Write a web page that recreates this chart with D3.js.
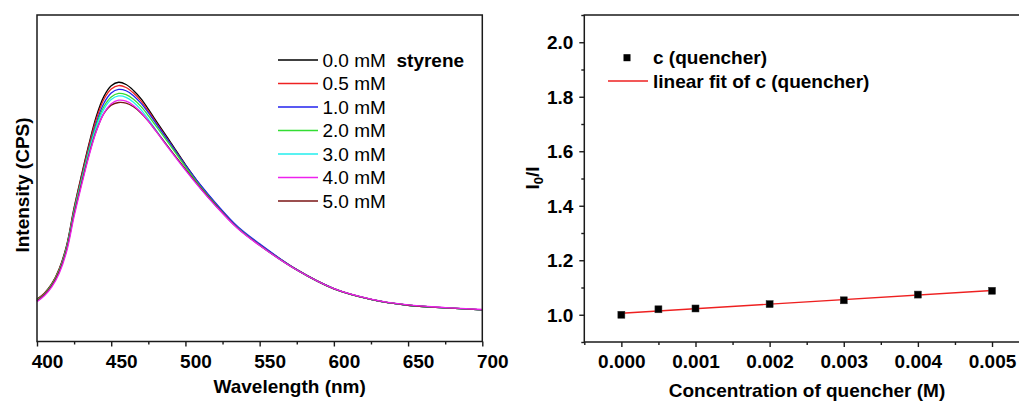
<!DOCTYPE html>
<html>
<head>
<meta charset="utf-8">
<script src="https://cdn.jsdelivr.net/npm/d3@7"></script>
<style>
  body { margin: 0; background: #fff; }
  svg { display: block; }
</style>
</head>
<body>
<svg id="chart" width="1019" height="401"></svg>
<script>
// ---- Emission spectra (arbitrary intensity units) ----
const wavelengths = [400, 405, 410, 415, 420, 425, 430, 435, 440, 445, 450, 455, 460, 465, 470, 475, 480, 490, 500, 510, 520, 535, 550, 575, 600, 625, 650, 675, 700];

const spec00 = [12.9, 14.8, 17.7, 22.3, 29.5, 41.0, 51.0, 60.5, 69.0, 75.0, 78.3, 79.4, 78.7, 76.9, 74.4, 71.2, 67.7, 61.0, 54.2, 47.9, 42.4, 35.0, 29.7, 22.0, 16.2, 12.9, 11.1, 10.3, 9.7];
const spec05 = [12.8, 14.7, 17.6, 22.1, 29.2, 40.6, 50.5, 59.9, 68.2, 74.1, 77.3, 78.4, 77.8, 76.1, 73.7, 70.6, 67.2, 60.6, 53.9, 47.7, 42.2, 34.9, 29.6, 22.0, 16.2, 12.9, 11.1, 10.3, 9.7];
const spec10 = [12.5, 14.4, 17.3, 21.7, 28.7, 39.9, 49.7, 59.0, 67.1, 72.9, 76.1, 77.2, 76.8, 75.3, 73.0, 70.1, 66.9, 60.5, 54.0, 48.0, 42.6, 35.3, 29.9, 22.0, 16.2, 12.9, 11.1, 10.3, 9.7];
const spec20 = [12.6, 14.5, 17.4, 21.8, 28.8, 39.9, 49.5, 58.6, 66.4, 71.9, 74.9, 76.0, 75.6, 74.2, 72.0, 69.2, 66.1, 59.9, 53.5, 47.5, 42.1, 34.9, 29.5, 21.9, 16.1, 12.9, 11.1, 10.3, 9.7];
const spec30 = [12.4, 14.3, 17.1, 21.5, 28.4, 39.4, 49.0, 58.0, 65.7, 71.1, 74.1, 75.2, 74.8, 73.3, 71.0, 68.1, 64.9, 58.6, 52.6, 47.0, 41.8, 34.8, 29.5, 21.9, 16.1, 12.9, 11.1, 10.3, 9.7];
const spec40 = [12.2, 14.0, 16.7, 20.9, 27.6, 38.3, 47.8, 56.8, 64.4, 69.8, 72.8, 73.9, 73.6, 72.3, 70.2, 67.5, 64.5, 58.4, 52.5, 46.9, 41.7, 34.7, 29.4, 21.9, 16.2, 13.0, 11.2, 10.4, 9.8];
const spec50 = [12.4, 14.3, 17.1, 21.4, 28.2, 39.0, 48.4, 57.2, 64.6, 69.8, 72.4, 73.2, 73.0, 71.9, 70.0, 67.5, 64.6, 58.6, 52.8, 47.1, 41.9, 34.8, 29.5, 21.9, 16.1, 12.9, 11.1, 10.3, 9.7];

const spectraLabels = ["0.0 mM", "0.5 mM", "1.0 mM", "2.0 mM", "3.0 mM", "4.0 mM", "5.0 mM"];
const spectraColors = ["#000000", "#ee2222", "#2222ee", "#33dd33", "#22eeee", "#ee22ee", "#7a1515"];
const wavelengthTicks = [400, 450, 500, 550, 600, 650, 700];
const wavelengthMinor = [425, 475, 525, 575, 625, 675];

// ---- Stern–Volmer data ----
const quencherConc = [0, 0.0005, 0.001, 0.002, 0.003, 0.004, 0.005];
const ratioI0I = [1.000, 1.020, 1.023, 1.039, 1.053, 1.074, 1.088];
const concTicks = [0, 0.001, 0.002, 0.003, 0.004, 0.005];
const concMinor = [-0.0005, 0.0005, 0.0015, 0.0025, 0.0035, 0.0045, 0.0055];
const ratioTicks = [1.0, 1.2, 1.4, 1.6, 1.8, 2.0];
const ratioMinor = [0.9, 1.1, 1.3, 1.5, 1.7, 1.9, 2.1];

const FONT = "'Liberation Sans', Arial, sans-serif";
const AXIS_COLOR = "#1a1a1a";
const svg = d3.select("#chart");

function styleAxis(g, size) {
  g.attr("font-family", FONT).attr("font-size", size).attr("font-weight", "bold");
  g.selectAll("line").attr("stroke", AXIS_COLOR).attr("stroke-width", 1.4);
  g.selectAll("text").attr("fill", "#000");
  g.select(".domain").remove();
}

// =============== Left panel: emission spectra ===============
const L = { left: 37, right: 482.3, top: 15, bottom: 341.5 };
const xL = d3.scaleLinear().domain([400, 700]).range([L.left, L.right]);
const yL = d3.scaleLinear().domain([0, 100]).range([L.bottom, L.top]);

const left = svg.append("g");

// minor ticks
left.append("g")
  .attr("transform", `translate(0,${L.bottom})`)
  .call(d3.axisBottom(xL).tickValues(wavelengthMinor).tickSize(3).tickFormat(""))
  .call(g => styleAxis(g, 19));

// major ticks and labels
left.append("g")
  .attr("transform", `translate(0,${L.bottom})`)
  .call(d3.axisBottom(xL).tickValues(wavelengthTicks).tickSize(5).tickPadding(8.5).tickFormat(d3.format("d")))
  .call(g => { styleAxis(g, 19); g.selectAll("text").attr("dx", 10); });

const spectra = [spec00, spec05, spec10, spec20, spec30, spec40, spec50];
const line = d3.line()
  .x(d => xL(d[0]))
  .y(d => yL(d[1]))
  .curve(d3.curveCatmullRom.alpha(0.5));

// draw order keeps the 4.0 mM trace visible on the converged tail
const drawOrder = [0, 1, 2, 3, 4, 6, 5];
drawOrder.forEach(i => {
  left.append("path")
    .datum(wavelengths.map((w, k) => [w, spectra[i][k]]))
    .attr("fill", "none")
    .attr("stroke", spectraColors[i])
    .attr("stroke-width", 1.3)
    .attr("stroke-linejoin", "round")
    .attr("d", line);
});

// frame
left.append("rect")
  .attr("x", L.left).attr("y", L.top)
  .attr("width", L.right - L.left).attr("height", L.bottom - L.top)
  .attr("fill", "none").attr("stroke", AXIS_COLOR).attr("stroke-width", 1.5);

// legend
const legL = left.append("g").attr("font-family", FONT).attr("font-size", 19);
spectraLabels.forEach((lab, i) => {
  const yy = 60 + i * 23.5;
  legL.append("line")
    .attr("x1", 278).attr("x2", 318).attr("y1", yy).attr("y2", yy)
    .attr("stroke", spectraColors[i]).attr("stroke-width", 1.3);
  legL.append("text").attr("x", 322.5).attr("y", yy + 6.7).text(lab);
});
legL.append("text").attr("x", 396.5).attr("y", 60 + 6.7)
  .attr("font-weight", "bold").text("styrene");

// axis titles
left.append("text")
  .attr("x", (L.left + L.right) / 2 + 30).attr("y", 392.5)
  .attr("text-anchor", "middle")
  .attr("font-family", FONT).attr("font-size", 19).attr("font-weight", "bold")
  .text("Wavelength (nm)");

left.append("text")
  .attr("transform", "translate(28.5,185) rotate(-90)")
  .attr("text-anchor", "middle")
  .attr("font-family", FONT).attr("font-size", 19).attr("font-weight", "bold")
  .text("Intensity (CPS)");

// =============== Right panel: Stern–Volmer plot ===============
const R = { left: 584.3, top: 15, bottom: 342 };
const xR = d3.scaleLinear().domain([-0.0005, 0.0055]).range([R.left, R.left + 6 * 74.13]);
const yR = d3.scaleLinear().domain([0.9, 2.1]).range([R.bottom, R.top]);

const right = svg.append("g");

right.append("g")
  .attr("transform", `translate(0,${R.bottom})`)
  .call(d3.axisBottom(xR).tickValues(concMinor).tickSize(3).tickFormat(""))
  .call(g => styleAxis(g, 19));
right.append("g")
  .attr("transform", `translate(0,${R.bottom})`)
  .call(d3.axisBottom(xR).tickValues(concTicks).tickSize(5).tickPadding(8).tickFormat(d3.format(".3f")))
  .call(g => styleAxis(g, 19));

right.append("g")
  .attr("transform", `translate(${R.left},0)`)
  .call(d3.axisLeft(yR).tickValues(ratioMinor).tickSize(3).tickFormat(""))
  .call(g => styleAxis(g, 19));
right.append("g")
  .attr("transform", `translate(${R.left},0)`)
  .call(d3.axisLeft(yR).tickValues(ratioTicks).tickSize(5).tickPadding(6).tickFormat(d3.format(".1f")))
  .call(g => { styleAxis(g, 19); g.selectAll("text").attr("dy", "0.35em"); });

// frame (right edge falls past the canvas)
right.append("rect")
  .attr("x", R.left).attr("y", R.top)
  .attr("width", xR(0.0055) - R.left).attr("height", R.bottom - R.top)
  .attr("fill", "none").attr("stroke", AXIS_COLOR).attr("stroke-width", 1.5);

// least-squares fit of I0/I against concentration
const mx = d3.mean(quencherConc), my = d3.mean(ratioI0I);
const sxy = d3.sum(quencherConc, (c, i) => (c - mx) * (ratioI0I[i] - my));
const sxx = d3.sum(quencherConc, c => (c - mx) * (c - mx));
const slope = sxy / sxx, intercept = my - slope * mx;
const cExt = d3.extent(quencherConc);

right.append("line")
  .attr("x1", xR(cExt[0])).attr("y1", yR(intercept + slope * cExt[0]))
  .attr("x2", xR(cExt[1])).attr("y2", yR(intercept + slope * cExt[1]))
  .attr("stroke", "#ee2020").attr("stroke-width", 1.4);

right.selectAll("rect.pt")
  .data(quencherConc.map((c, i) => [c, ratioI0I[i]]))
  .join("rect")
  .attr("class", "pt")
  .attr("x", d => xR(d[0]) - 3.5).attr("y", d => yR(d[1]) - 3.5)
  .attr("width", 7).attr("height", 7)
  .attr("fill", "#000").attr("stroke", "#333").attr("stroke-width", 0.5);

// legend
const legR = right.append("g").attr("font-family", FONT).attr("font-size", 19).attr("font-weight", "bold");
legR.append("rect").attr("x", 627 - 3.5).attr("y", 57.7 - 3.5).attr("width", 7).attr("height", 7).attr("fill", "#000");
legR.append("text").attr("x", 653).attr("y", 57.7 + 6.7).text("c (quencher)");
legR.append("line").attr("x1", 608).attr("x2", 648).attr("y1", 81).attr("y2", 81)
  .attr("stroke", "#ee2020").attr("stroke-width", 1.4);
legR.append("text").attr("x", 653).attr("y", 81 + 6.7).text("linear fit of c (quencher)");

// axis titles
right.append("text")
  .attr("x", 807).attr("y", 397)
  .attr("text-anchor", "middle")
  .attr("font-family", FONT).attr("font-size", 19).attr("font-weight", "bold")
  .text("Concentration of quencher (M)");

const yt = right.append("text")
  .attr("transform", "translate(539,178) rotate(-90)")
  .attr("text-anchor", "middle")
  .attr("font-family", FONT).attr("font-size", 19).attr("font-weight", "bold");
yt.append("tspan").text("I");
yt.append("tspan").attr("font-size", 13).attr("dy", 4).text("0");
yt.append("tspan").attr("dy", -4).text("/I");
</script>
</body>
</html>
